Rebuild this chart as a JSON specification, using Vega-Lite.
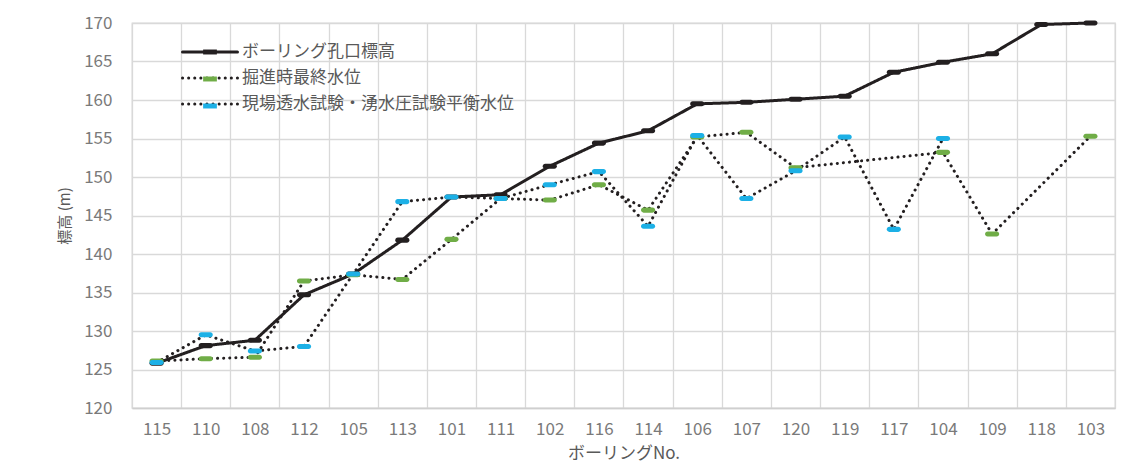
{
  "$schema": "https://vega.github.io/schema/vega-lite/v6.json",
  "width": 983,
  "height": 385,
  "autosize": {"type": "none"},
  "padding": {"left": 132, "top": 23, "right": 23, "bottom": 56},
  "background": "white",
  "config": {
    "font": "Noto Sans CJK JP",
    "view": {"stroke": "#d9d9d9", "strokeWidth": 1.3},
    "axis": {
      "gridColor": "#d9d9d9",
      "gridWidth": 1.3,
      "labelColor": "#7a7a7a",
      "labelFontSize": 17,
      "titleColor": "#595959",
      "titleFontWeight": "normal",
      "ticks": false,
      "tickSize": 0
    }
  },
  "data": {
    "values": [
      {"no": "115", "series": "ボーリング孔口標高", "value": 125.8},
      {"no": "110", "series": "ボーリング孔口標高", "value": 128.1},
      {"no": "108", "series": "ボーリング孔口標高", "value": 128.8},
      {"no": "112", "series": "ボーリング孔口標高", "value": 134.7},
      {"no": "105", "series": "ボーリング孔口標高", "value": 137.4},
      {"no": "113", "series": "ボーリング孔口標高", "value": 141.8},
      {"no": "101", "series": "ボーリング孔口標高", "value": 147.4},
      {"no": "111", "series": "ボーリング孔口標高", "value": 147.7},
      {"no": "102", "series": "ボーリング孔口標高", "value": 151.4},
      {"no": "116", "series": "ボーリング孔口標高", "value": 154.4},
      {"no": "114", "series": "ボーリング孔口標高", "value": 156.0},
      {"no": "106", "series": "ボーリング孔口標高", "value": 159.5},
      {"no": "107", "series": "ボーリング孔口標高", "value": 159.7},
      {"no": "120", "series": "ボーリング孔口標高", "value": 160.1},
      {"no": "119", "series": "ボーリング孔口標高", "value": 160.5},
      {"no": "117", "series": "ボーリング孔口標高", "value": 163.6},
      {"no": "104", "series": "ボーリング孔口標高", "value": 164.9},
      {"no": "109", "series": "ボーリング孔口標高", "value": 166.0},
      {"no": "118", "series": "ボーリング孔口標高", "value": 169.8},
      {"no": "103", "series": "ボーリング孔口標高", "value": 170.0},

      {"no": "115", "series": "掘進時最終水位", "value": 126.1},
      {"no": "110", "series": "掘進時最終水位", "value": 126.4},
      {"no": "108", "series": "掘進時最終水位", "value": 126.6},
      {"no": "112", "series": "掘進時最終水位", "value": 136.5},
      {"no": "105", "series": "掘進時最終水位", "value": 137.3},
      {"no": "113", "series": "掘進時最終水位", "value": 136.7},
      {"no": "101", "series": "掘進時最終水位", "value": 141.9},
      {"no": "111", "series": "掘進時最終水位", "value": 147.2},
      {"no": "102", "series": "掘進時最終水位", "value": 147.0},
      {"no": "116", "series": "掘進時最終水位", "value": 149.0},
      {"no": "114", "series": "掘進時最終水位", "value": 145.7},
      {"no": "106", "series": "掘進時最終水位", "value": 155.2},
      {"no": "107", "series": "掘進時最終水位", "value": 155.8},
      {"no": "120", "series": "掘進時最終水位", "value": 151.2},
      {"no": "104", "series": "掘進時最終水位", "value": 153.2},
      {"no": "109", "series": "掘進時最終水位", "value": 142.6},
      {"no": "103", "series": "掘進時最終水位", "value": 155.3},

      {"no": "115", "series": "現場透水試験・湧水圧試験平衡水位", "value": 125.9},
      {"no": "110", "series": "現場透水試験・湧水圧試験平衡水位", "value": 129.5},
      {"no": "108", "series": "現場透水試験・湧水圧試験平衡水位", "value": 127.4},
      {"no": "112", "series": "現場透水試験・湧水圧試験平衡水位", "value": 128.0},
      {"no": "105", "series": "現場透水試験・湧水圧試験平衡水位", "value": 137.4},
      {"no": "113", "series": "現場透水試験・湧水圧試験平衡水位", "value": 146.8},
      {"no": "101", "series": "現場透水試験・湧水圧試験平衡水位", "value": 147.4},
      {"no": "111", "series": "現場透水試験・湧水圧試験平衡水位", "value": 147.2},
      {"no": "102", "series": "現場透水試験・湧水圧試験平衡水位", "value": 149.0},
      {"no": "116", "series": "現場透水試験・湧水圧試験平衡水位", "value": 150.7},
      {"no": "114", "series": "現場透水試験・湧水圧試験平衡水位", "value": 143.6},
      {"no": "106", "series": "現場透水試験・湧水圧試験平衡水位", "value": 155.4},
      {"no": "107", "series": "現場透水試験・湧水圧試験平衡水位", "value": 147.2},
      {"no": "120", "series": "現場透水試験・湧水圧試験平衡水位", "value": 150.8},
      {"no": "119", "series": "現場透水試験・湧水圧試験平衡水位", "value": 155.2},
      {"no": "117", "series": "現場透水試験・湧水圧試験平衡水位", "value": 143.2},
      {"no": "104", "series": "現場透水試験・湧水圧試験平衡水位", "value": 155.0}
    ]
  },
  "encoding": {
    "x": {
      "field": "no",
      "type": "nominal",
      "bandPosition": 0.5,
      "sort": ["115","110","108","112","105","113","101","111","102","116","114","106","107","120","119","117","104","109","118","103"],
      "scale": {"type": "band", "paddingInner": 0, "paddingOuter": 0},
      "axis": {
        "title": "ボーリングNo.",
        "titleFontSize": 17,
        "titlePadding": 8,
        "labelAngle": 0,
        "labelPadding": 13,
        "tickBand": "extent",
        "domain": true,
        "domainColor": "#cfcfcf",
        "domainWidth": 1.6,
        "grid": true
      }
    },
    "y": {
      "field": "value",
      "type": "quantitative",
      "scale": {"domain": [120, 170], "nice": false, "zero": false},
      "axis": {
        "title": "標高 (m)",
        "titleFontSize": 15,
        "titlePadding": 11,
        "values": [120,125,130,135,140,145,150,155,160,165,170],
        "labelPadding": 20,
        "domain": false,
        "grid": true
      }
    }
  },
  "layer": [
    {
      "mark": {"type": "line", "stroke": "#231f20", "strokeWidth": 3, "strokeCap": "round", "strokeJoin": "round"},
      "encoding": {
        "strokeDash": {
          "field": "series",
          "type": "nominal",
          "scale": {
            "domain": ["ボーリング孔口標高", "掘進時最終水位", "現場透水試験・湧水圧試験平衡水位"],
            "range": [[1, 0], [0.1, 6], [0.1, 6]]
          },
          "legend": {
            "title": null,
            "orient": "none",
            "legendX": 67,
            "legendY": 18,
            "padding": 0,
            "rowPadding": 7,
            "symbolType": "M-3,0H3",
            "symbolSize": 336,
            "symbolStrokeColor": "#231f20",
            "symbolStrokeWidth": 3,
            "symbolFillColor": "transparent",
            "labelFontSize": 17,
            "labelColor": "#595959",
            "labelOffset": 21,
            "labelLimit": 400,
            "encode": {"symbols": {"update": {"strokeCap": {"value": "round"}}}}
          }
        }
      }
    },
    {
      "mark": {
        "type": "point",
        "filled": true,
        "opacity": 1,
        "size": 196,
        "shape": "M-0.65,-0.36H0.65A0.36,0.36 0 0 1 0.65,0.36H-0.65A0.36,0.36 0 0 1 -0.65,-0.36Z"
      },
      "encoding": {
        "fill": {
          "field": "series",
          "type": "nominal",
          "scale": {"range": ["#231f20", "#70ad47", "#1cb0e6"]},
          "legend": {
            "title": null,
            "orient": "none",
            "legendX": 67,
            "legendY": 18,
            "padding": 0,
            "rowPadding": 7,
            "symbolType": "M-0.75,-0.27H0.75V0.27H-0.75Z",
            "symbolSize": 336,
            "symbolStrokeColor": "transparent",
            "symbolStrokeWidth": 3,
            "symbolOpacity": 1,
            "labelFontSize": 17,
            "labelOpacity": 0,
            "labelOffset": 21,
            "labelLimit": 400
          }
        }
      }
    }
  ]
}
